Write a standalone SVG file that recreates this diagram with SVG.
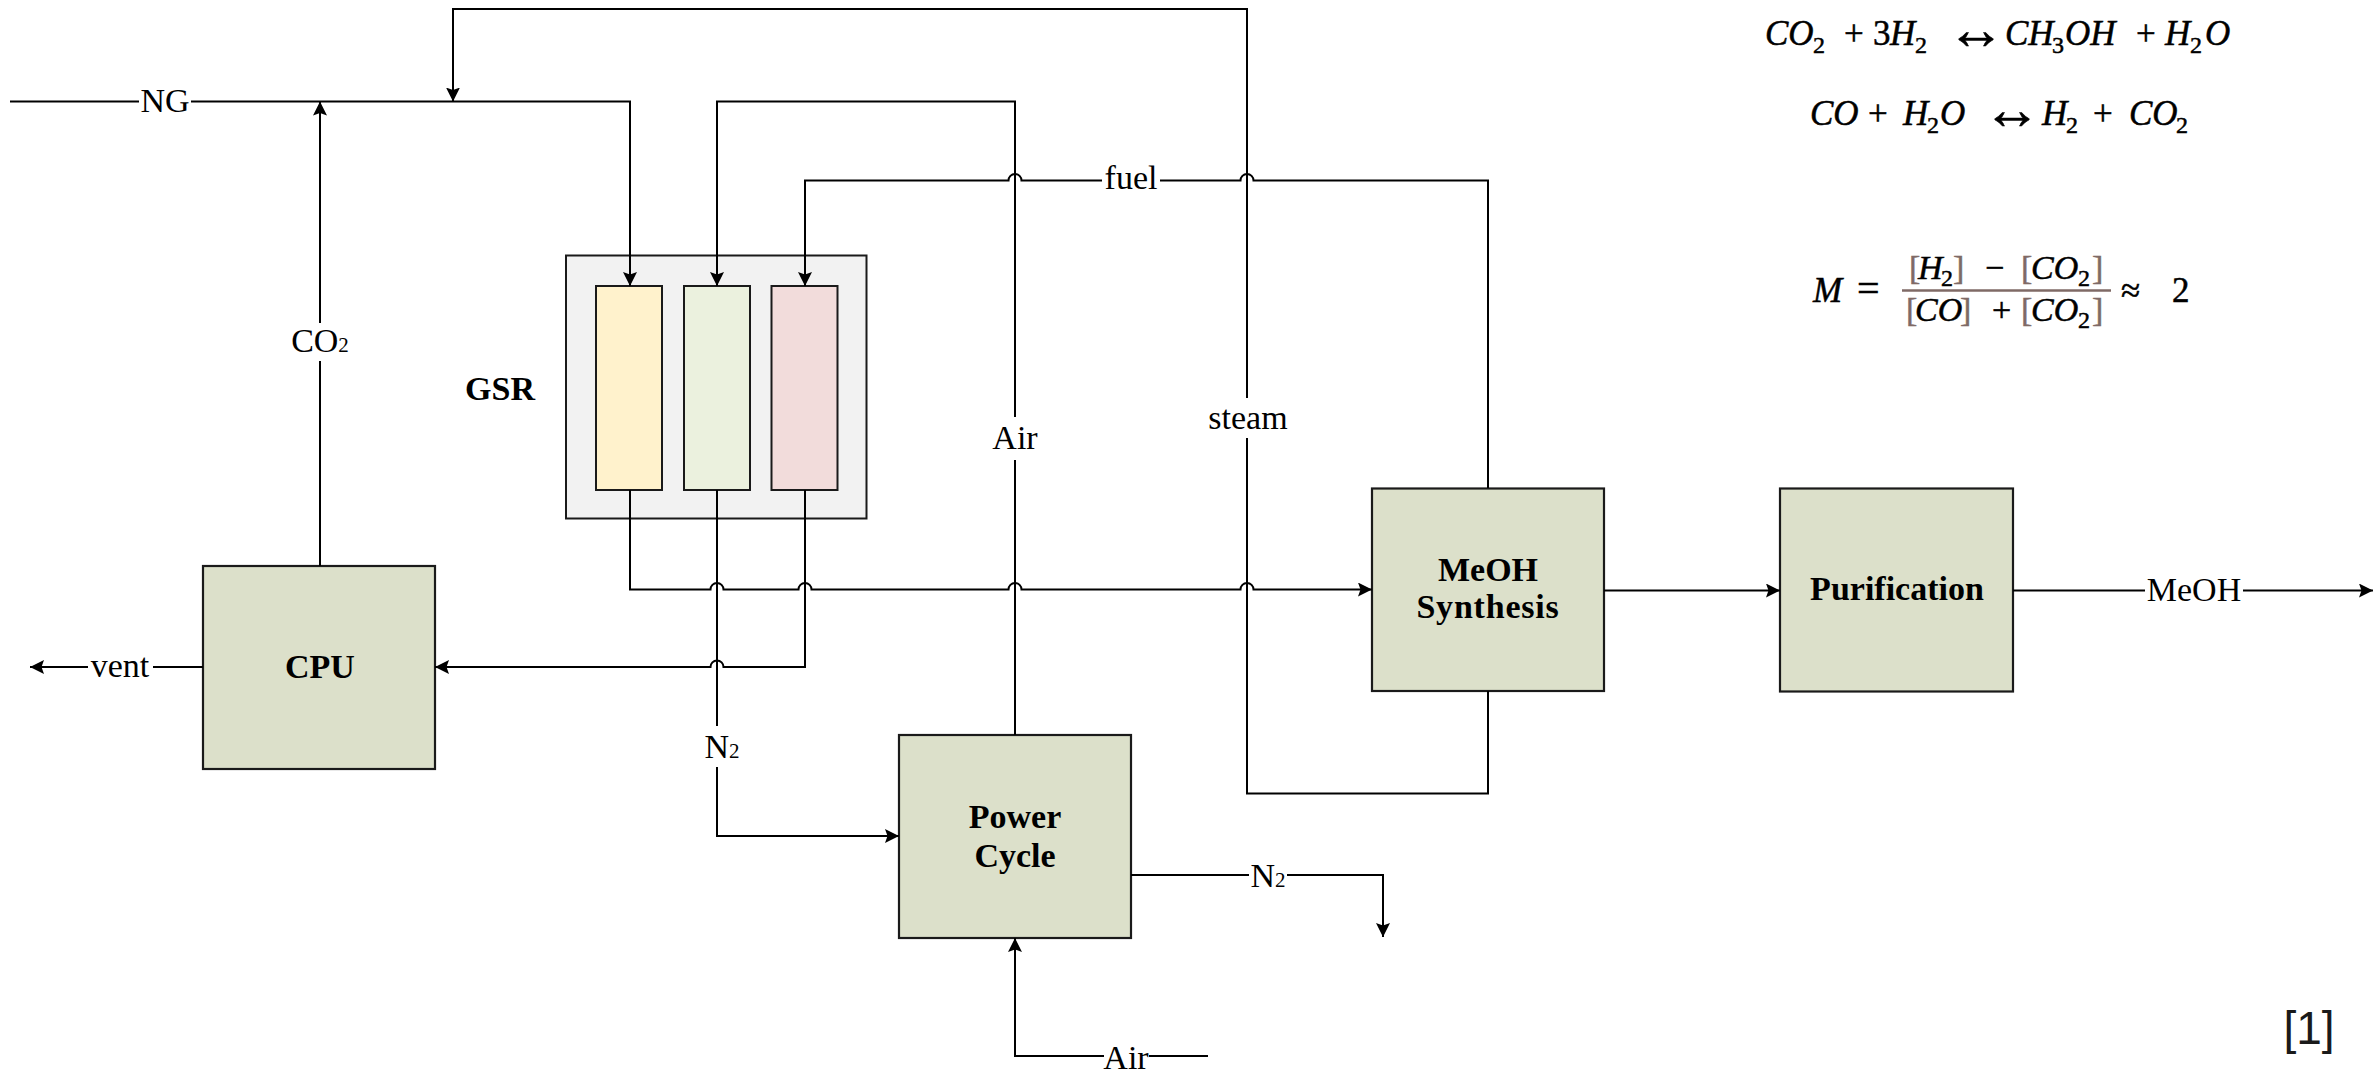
<svg xmlns="http://www.w3.org/2000/svg" width="2379" height="1073" viewBox="0 0 2379 1073">
<defs>
<marker id="arr" markerUnits="userSpaceOnUse" markerWidth="16" markerHeight="16" refX="14" refY="7" orient="auto">
<path d="M0,0 L14,7 L0,14 L2.5,7 Z" fill="#000"/>
</marker>
<style>
.ln{fill:none;stroke:#000;stroke-width:2}
.ar{marker-end:url(#arr)}
.box{fill:#dce0ca;stroke:#1a1a1a;stroke-width:2.2}
.gap{fill:#fff;stroke:none}
.lbl{font-family:"Liberation Serif",serif;font-size:34px;fill:#000;text-anchor:middle}
.sub{font-size:21px}
.bold{font-family:"Liberation Serif",serif;font-size:34px;font-weight:bold;fill:#000;text-anchor:middle}
.eq{font-family:"Liberation Serif",serif;font-size:35px;fill:#000;stroke:#000;stroke-width:0.5}
.fr{font-size:34px}
.it{font-style:italic}
.es{font-size:24px;font-style:normal}
.br{fill:#7f6a66;stroke:#7f6a66;font-style:normal}
.sym{font-size:58px}
</style>
</defs>
<rect width="2379" height="1073" fill="#fff"/>

<g id="gsr">
<rect x="566" y="255.5" width="300.5" height="263" fill="#f2f2f2" stroke="#1a1a1a" stroke-width="2"/>
<rect x="596" y="286" width="66" height="204" fill="#fff2cc" stroke="#1a1a1a" stroke-width="2"/>
<rect x="684" y="286" width="66" height="204" fill="#ebf1de" stroke="#1a1a1a" stroke-width="2"/>
<rect x="771.5" y="286" width="66" height="204" fill="#f2dcdb" stroke="#1a1a1a" stroke-width="2"/>
<text class="bold" x="500" y="399.5">GSR</text>
</g>

<g id="cpu">
<rect class="box" x="203" y="566" width="232" height="203"/>
<text class="bold" x="320" y="678">CPU</text>
</g>

<g id="power-cycle">
<rect class="box" x="899" y="735" width="232" height="203"/>
<text class="bold" x="1015" y="828">Power</text>
<text class="bold" x="1015" y="866.5">Cycle</text>
</g>

<g id="meoh-synthesis">
<rect class="box" x="1372" y="488.5" width="232" height="202.5"/>
<text class="bold" x="1488" y="580.5">MeOH</text>
<text class="bold" x="1488" y="618" letter-spacing="0.8">Synthesis</text>
</g>

<g id="purification">
<rect class="box" x="1780" y="488.5" width="233" height="203"/>
<text class="bold" x="1897" y="600">Purification</text>
</g>

<g id="connectors">
<path class="ln ar" d="M10,101.5 H630 V286"/>
<path class="ln ar" d="M1488,691 V793.5 H1247 V9 H453 V101.5"/>
<path class="ln ar" d="M320,566 V101.5"/>
<path class="ln ar" d="M1015,735 V101.5 H717 V286"/>
<path class="ln ar" d="M1488,488 V180.5 H1253.5 a6.5,6.5 0 0 0 -13,0 H1021.5 a6.5,6.5 0 0 0 -13,0 H805 V286"/>
<path class="ln ar" d="M630,490 V589.5 H710.5 a6.5,6.5 0 0 1 13,0 H798.5 a6.5,6.5 0 0 1 13,0 H1008.5 a6.5,6.5 0 0 1 13,0 H1240.5 a6.5,6.5 0 0 1 13,0 H1372"/>
<path class="ln ar" d="M805,490 V667 H723.5 a6.5,6.5 0 0 0 -13,0 H435"/>
<path class="ln ar" d="M717,490 V836 H899"/>
<path class="ln ar" d="M203,667 H30"/>
<path class="ln ar" d="M1604,590.5 H1780"/>
<path class="ln ar" d="M2013,590.5 H2373"/>
<path class="ln ar" d="M1131,875 H1383 V937"/>
<path class="ln ar" d="M1208,1056 H1015 V938"/>

<rect class="gap" x="139" y="88" width="52" height="28"/>
<text class="lbl" x="165" y="112">NG</text>
<rect class="gap" x="306" y="323" width="30" height="38"/>
<text class="lbl" x="320" y="352">CO<tspan class="sub">2</tspan></text>
<rect class="gap" x="1102" y="168" width="58" height="26"/>
<text class="lbl" x="1131" y="188.5">fuel</text>
<rect class="gap" x="1000" y="417" width="30" height="43"/>
<text class="lbl" x="1015" y="448.5">Air</text>
<rect class="gap" x="1230" y="398" width="34" height="40"/>
<text class="lbl" x="1248" y="428.5">steam</text>
<rect class="gap" x="702" y="726" width="30" height="41"/>
<text class="lbl" x="722" y="758">N<tspan class="sub">2</tspan></text>
<rect class="gap" x="88" y="655" width="65" height="24"/>
<text class="lbl" x="120" y="676.5">vent</text>
<rect class="gap" x="1249" y="862" width="38" height="28"/>
<text class="lbl" x="1268" y="886.5">N<tspan class="sub">2</tspan></text>
<rect class="gap" x="2145" y="578" width="98" height="26"/>
<text class="lbl" x="2194" y="601">MeOH</text>
<rect class="gap" x="1104" y="1044" width="45" height="26"/>
<text class="lbl" x="1126" y="1069">Air</text>
</g>

<g id="equations">
<text class="eq" y="45"><tspan class="it" x="1765">CO</tspan><tspan class="es" x="1813" y="53">2</tspan><tspan x="1844" y="45">+</tspan><tspan x="1873">3</tspan><tspan class="it" x="1890">H</tspan><tspan class="es" x="1915" y="53">2</tspan><tspan class="sym" x="1947" y="49">↔</tspan><tspan class="it" x="2005" y="45">CH</tspan><tspan class="es" x="2052" y="53">3</tspan><tspan class="it" x="2065" y="45">OH</tspan><tspan x="2136">+</tspan><tspan class="it" x="2165">H</tspan><tspan class="es" x="2190" y="53">2</tspan><tspan class="it" x="2205" y="45">O</tspan></text>
<text class="eq" y="125"><tspan class="it" x="1810">CO</tspan><tspan x="1868">+</tspan><tspan class="it" x="1903">H</tspan><tspan class="es" x="1927" y="133">2</tspan><tspan class="it" x="1940" y="125">O</tspan><tspan class="sym" x="1983" y="129">↔</tspan><tspan class="it" x="2042" y="125">H</tspan><tspan class="es" x="2066" y="133">2</tspan><tspan x="2093" y="125">+</tspan><tspan class="it" x="2129">CO</tspan><tspan class="es" x="2176" y="133">2</tspan></text>
<text class="eq" y="302"><tspan class="it" x="1813">M</tspan><tspan x="1857" font-size="40">=</tspan><tspan x="2121">≈</tspan><tspan x="2172">2</tspan></text>
<text class="eq fr" y="279"><tspan class="br" x="1909">[</tspan><tspan class="it" x="1918">H</tspan><tspan class="es" x="1941" y="286">2</tspan><tspan class="br" x="1953" y="279">]</tspan><tspan x="1985">−</tspan><tspan class="br" x="2021">[</tspan><tspan class="it" x="2031">CO</tspan><tspan class="es" x="2078" y="286">2</tspan><tspan class="br" x="2092" y="279">]</tspan></text>
<line x1="1902" y1="290.5" x2="2111" y2="290.5" stroke="#7f6a66" stroke-width="2.6"/>
<text class="eq fr" y="321"><tspan class="br" x="1906">[</tspan><tspan class="it" x="1915">CO</tspan><tspan class="br" x="1960">]</tspan><tspan x="1992">+</tspan><tspan class="br" x="2021">[</tspan><tspan class="it" x="2031">CO</tspan><tspan class="es" x="2078" y="328">2</tspan><tspan class="br" x="2092" y="321">]</tspan></text>
</g>

<text id="ref" x="2309" y="1044" font-family="'Liberation Sans',sans-serif" font-size="46" fill="#1a1a1a" text-anchor="middle">[1]</text>
</svg>
